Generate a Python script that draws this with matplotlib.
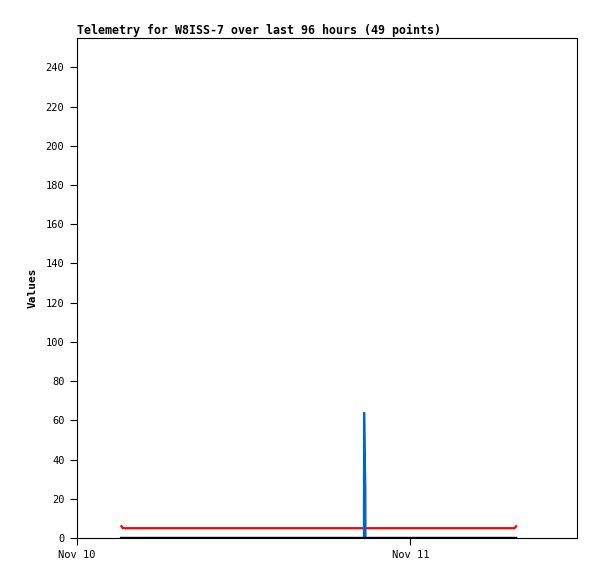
import matplotlib
matplotlib.use("Agg")
import matplotlib.pyplot as plt
import matplotlib.dates as mdates
from datetime import datetime, timedelta

# hours after Nov 10 00:00
hours = [3.20, 3.30, 3.90, 4.50, 5.10, 5.70, 6.30, 6.90, 7.50, 8.10,
         8.70, 9.30, 9.90, 10.50, 11.10, 11.70, 12.30, 12.90, 13.50, 14.10,
         14.70, 15.30, 15.90, 16.50, 17.10, 17.70, 18.30, 18.90, 19.50, 20.10,
         20.66, 20.67, 20.76, 20.77, 21.40, 22.00, 22.60, 23.20, 23.80, 24.40,
         25.00, 25.60, 26.20, 26.80, 27.40, 28.00, 28.80, 31.50, 31.62]
red = [6, 5, 5, 5, 5, 5, 5, 5, 5, 5,
       5, 5, 5, 5, 5, 5, 5, 5, 5, 5,
       5, 5, 5, 5, 5, 5, 5, 5, 5, 5,
       5, 5, 5, 5, 5, 5, 5, 5, 5, 5,
       5, 5, 5, 5, 5, 5, 5, 5, 6]
blue = [0, 0, 0, 0, 0, 0, 0, 0, 0, 0,
        0, 0, 0, 0, 0, 0, 0, 0, 0, 0,
        0, 0, 0, 0, 0, 0, 0, 0, 0, 0,
        0, 64, 24, 0, 0, 0, 0, 0, 0, 0,
        0, 0, 0, 0, 0, 0, 0, 0, 0]
black = [0] * 49
yticks = list(range(0, 241, 20))

base = datetime(2023, 11, 10)
times = [base + timedelta(hours=h) for h in hours]

plt.rcParams['font.family'] = ['DejaVu Sans Mono']
fig = plt.figure(figsize=(5.97, 5.79), dpi=100)
ax = fig.add_axes([77/597, 41/579, 500/597, 500/579])

ax.plot(times, red, color='#ff0000', lw=1.6, zorder=2, solid_joinstyle='miter')
ax.plot(times, blue, color='#0066cc', lw=1.6, zorder=3, solid_joinstyle='miter')
ax.plot(times, black, color='#000000', lw=1.6, zorder=4)

ax.set_ylim(0, 255)
ax.set_xlim(base, base + timedelta(hours=36))
ax.set_yticks(yticks)
ax.xaxis.set_major_locator(mdates.DayLocator())
ax.xaxis.set_major_formatter(mdates.DateFormatter('%b %d'))
ax.tick_params(axis='both', direction='out', length=5, width=0.8, labelsize=7.5, pad=4)
for s in ax.spines.values():
    s.set_linewidth(0.8)
ax.set_ylabel('Values', fontsize=8, fontweight='bold', labelpad=6)
ax.set_title('Telemetry for W8ISS-7 over last 96 hours (49 points)', loc='left',
             fontsize=8.4, fontweight='bold', pad=3)
fig.savefig('out.png', dpi=100)
